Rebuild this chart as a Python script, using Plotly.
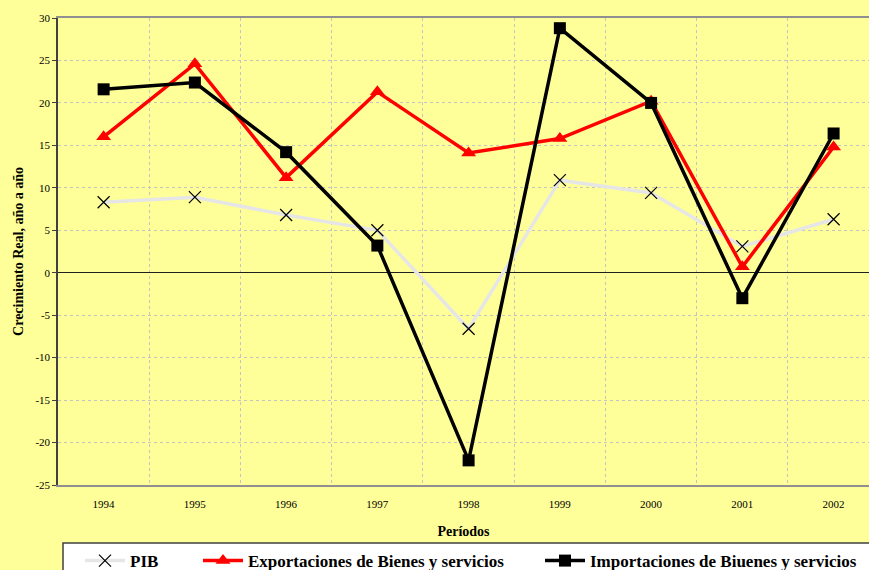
import plotly.graph_objects as go

years = ["1994", "1995", "1996", "1997", "1998", "1999", "2000", "2001", "2002"]
pib = [8.3, 8.9, 6.8, 5.0, -6.6, 10.9, 9.4, 3.1, 6.3]
exportaciones = [16.0, 24.6, 11.2, 21.3, 14.1, 15.8, 20.2, 0.7, 14.8]
importaciones = [21.6, 22.4, 14.2, 3.2, -22.1, 28.8, 20.0, -3.0, 16.4]
y_ticks = [-25, -20, -15, -10, -5, 0, 5, 10, 15, 20, 25, 30]
y_ticktext = ["-25", "-20", "-15", "-10", "-5", "0", "5", "10", "15", "20", "25", "30"]

FONT = "Liberation Serif, Times New Roman, serif"

fig = go.Figure()
fig.add_trace(go.Scatter(
    x=years, y=pib, name="PIB", mode="lines+markers", legend="legend",
    line=dict(color="#E6E6E6", width=3.5),
    marker=dict(symbol="x-thin-open", size=12, color="black",
                line=dict(color="black", width=1.2)),
))
fig.add_trace(go.Scatter(
    x=years, y=exportaciones, name="Exportaciones de Bienes y servicios",
    mode="lines+markers", legend="legend2",
    line=dict(color="#FF0000", width=3.5),
    marker=dict(symbol="triangle-up", size=13, color="#FF0000"),
))
fig.add_trace(go.Scatter(
    x=years, y=importaciones, name="Importaciones de Biuenes y servicios",
    mode="lines+markers", legend="legend3",
    line=dict(color="#000000", width=3.5),
    marker=dict(symbol="square", size=12, color="#000000"),
))

# white legend frame extending past the right edge
fig.add_shape(type="rect", xref="paper", yref="paper",
              x0=5/811, x1=1.05, y0=-0.25, y1=-58/467,
              fillcolor="white", line=dict(color="#404040", width=1.5), layer="below")

LEG = dict(orientation="h", xanchor="left", y=-0.1243, yanchor="top",
           bgcolor="rgba(0,0,0,0)", borderwidth=0,
           font=dict(family=FONT, size=17, color="black", weight="bold"),
           itemwidth=40)

fig.update_layout(
    width=869, height=570,
    paper_bgcolor="#FFFF99", plot_bgcolor="#FFFF99",
    margin=dict(l=58, r=0, t=18, b=85, pad=0, autoexpand=False),
    font=dict(family=FONT, color="black", size=11),
    showlegend=True,
    legend=dict(LEG, x=(80 - 58) / 811),
    legend2=dict(LEG, x=(198 - 58) / 811),
    legend3=dict(LEG, x=(540 - 58) / 811),
    xaxis=dict(
        type="category", range=[-0.5, 8.388], tickson="boundaries",
        showgrid=True, gridcolor="#C4C4C4", griddash="3px,3px", gridwidth=1,
        ticks="", showline=True, linecolor="#909090", linewidth=1.5, mirror=True,
        tickfont=dict(family=FONT, size=11), automargin=False, ticklabelstandoff=8,
        title=dict(text="Períodos", font=dict(family=FONT, size=14, weight="bold"), standoff=17),
    ),
    yaxis=dict(
        range=[-25, 30], tickvals=y_ticks, ticktext=y_ticktext, automargin=False,
        showgrid=True, gridcolor="#C4C4C4", griddash="3px,3px", gridwidth=1,
        zeroline=True, zerolinecolor="#202020", zerolinewidth=1.2,
        showline=True, linecolor="#404040", linewidth=1.5,
        ticks="outside", ticklen=4, tickcolor="#404040",
        tickfont=dict(family=FONT, size=11),
        title=dict(text="Crecimiento Real, año a año", font=dict(family=FONT, size=14, weight="bold"), standoff=8),
    ),
)

fig.write_html("out.html", config={"displayModeBar": False},
               post_script="document.body.style.margin='0';")
